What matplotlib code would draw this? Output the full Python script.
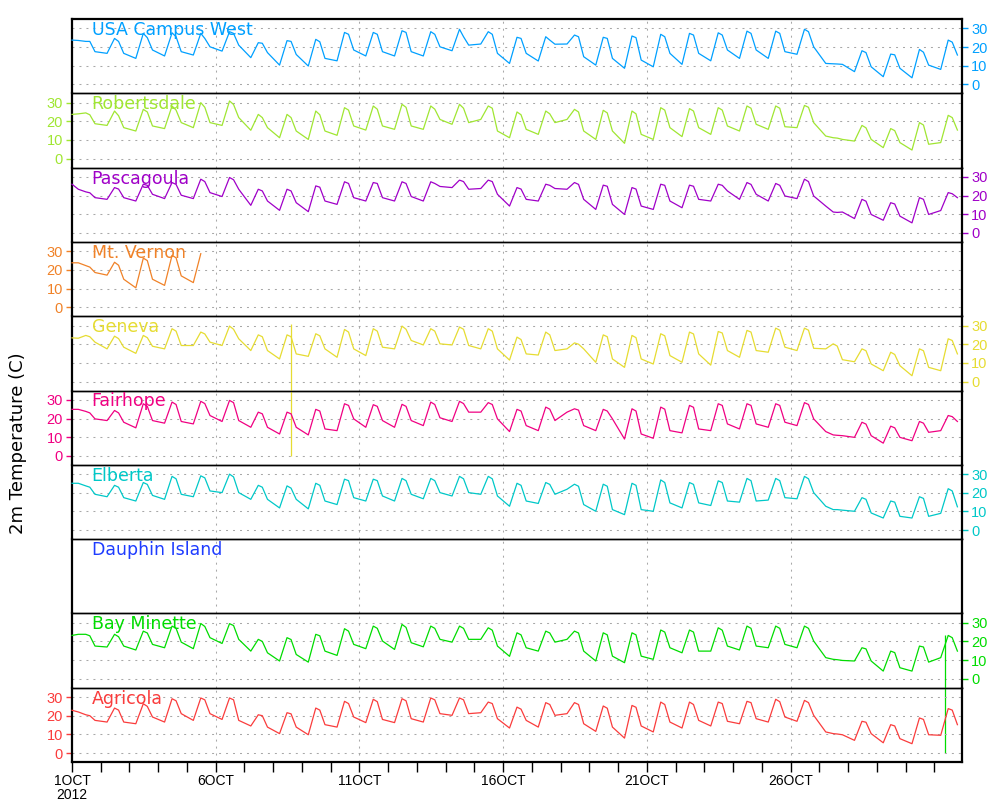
import numpy as np
import matplotlib
matplotlib.use('Agg')
import matplotlib.pyplot as plt

plt.rcParams['font.family'] = ['Liberation Sans', 'DejaVu Sans']

names = ['USA Campus West', 'Robertsdale', 'Pascagoula', 'Mt. Vernon', 'Geneva',
         'Fairhope', 'Elberta', 'Dauphin Island', 'Bay Minette', 'Agricola']
colors = ['#00a0ff', '#a0e632', '#a000c8', '#f08228', '#e6dc32',
          '#f00082', '#00c8c8', '#1e3cff', '#00dc00', '#fa3c3c']
label_side = ['right', 'left', 'right', 'left', 'right', 'left', 'right', None, 'right', 'left']

day_labels = ['1OCT\n2012', '6OCT', '11OCT', '16OCT', '21OCT', '26OCT']
label_days = [0, 5, 10, 15, 20, 25]
temp_ticks = [0, 10, 20, 30]

# four readings a day: morning low, early afternoon high, mid afternoon, evening
t_lo, t_hi, t_pm, t_ev = 0.22, 0.48, 0.62, 0.80

usa_start = 23.7
usa_lo = [23.5, 16.6, 13.9, 15.2, 15.7, 17.8, 14.3, 10.3, 9.8, 12.6, 15.2, 15.2, 15.2, 18.0, 21.6, 11.2,
          12.5, 21.6, 10.3, 8.6, 9.4, 10.7, 12.6, 13.9, 13.9, 16.1, 11.2, 6.8, 4.1, 3.5, 8.0]
usa_hi = [23.0, 24.6, 27.3, 27.6, 27.3, 28.2, 22.3, 23.4, 24.1, 27.8, 27.8, 28.7, 28.2, 29.5, 28.2, 25.2,
          25.5, 26.4, 25.2, 25.9, 26.8, 27.3, 27.6, 28.5, 28.5, 29.5, 11.0, 18.0, 16.2, 18.7, 23.7]
usa_pm = [23.0, 23.0, 25.0, 25.5, 24.6, 27.3, 22.0, 23.0, 22.8, 26.8, 26.8, 27.8, 26.8, 25.5, 26.8, 24.6,
          23.7, 25.5, 24.6, 25.0, 25.5, 26.4, 26.4, 27.3, 27.3, 28.2, 10.9, 17.0, 15.8, 17.2, 22.6]
usa_ev = [17.5, 16.6, 18.4, 17.5, 20.1, 21.0, 17.0, 16.0, 13.9, 18.4, 17.5, 17.5, 20.1, 21.0, 16.6, 16.6,
          21.5, 14.8, 13.9, 13.0, 16.6, 16.6, 18.4, 18.4, 17.5, 20.1, 10.7, 9.4, 8.6, 10.3, 15.7]

rob_start = 23.7
rob_lo = [24.0, 17.8, 14.8, 16.1, 16.6, 17.8, 15.2, 11.2, 10.3, 12.5, 15.3, 15.7, 15.7, 18.4, 21.0, 11.2,
          13.0, 21.0, 10.3, 8.2, 10.3, 11.8, 13.0, 14.8, 15.7, 16.6, 12.1, 9.4, 5.9, 4.6, 8.6]
rob_hi = [24.5, 25.5, 26.4, 28.2, 30.0, 30.9, 23.7, 23.7, 25.5, 27.3, 28.2, 29.1, 28.2, 29.1, 28.2, 25.0,
          25.5, 26.4, 25.9, 25.5, 27.3, 26.8, 27.3, 28.2, 28.2, 28.5, 11.2, 17.8, 16.1, 19.3, 23.2]
rob_pm = [23.5, 23.0, 25.0, 26.0, 27.5, 29.0, 22.0, 22.0, 23.5, 26.0, 26.5, 27.5, 26.5, 27.0, 27.0, 23.5,
          24.0, 25.0, 24.5, 24.0, 26.0, 25.5, 26.0, 27.0, 27.0, 27.5, 11.0, 16.5, 15.0, 18.0, 22.0]
rob_ev = [18.7, 16.6, 17.5, 19.3, 19.3, 22.0, 16.6, 14.8, 14.8, 17.5, 17.5, 17.5, 21.0, 19.3, 14.8, 15.7,
          19.3, 14.8, 14.8, 13.0, 16.6, 16.6, 17.5, 18.4, 17.1, 19.3, 10.3, 10.3, 8.6, 7.7, 15.3]

pas_start = 26.1
pas_lo = [23.4, 18.0, 17.1, 18.4, 18.4, 19.5, 14.8, 12.1, 11.4, 15.3, 17.1, 17.1, 17.1, 24.3, 23.8, 14.4,
          17.1, 23.4, 12.6, 9.9, 12.6, 13.5, 17.1, 18.0, 17.1, 18.4, 14.4, 7.7, 6.8, 5.4, 12.0]
pas_hi = [22.0, 24.3, 26.1, 27.0, 28.8, 29.7, 23.4, 23.4, 25.2, 27.4, 27.0, 27.4, 27.4, 28.3, 28.3, 24.3,
          26.1, 27.0, 25.6, 24.3, 26.1, 25.6, 26.1, 27.0, 26.5, 28.8, 11.2, 18.0, 16.2, 18.9, 21.6]
pas_pm = [21.5, 23.5, 25.5, 26.0, 27.5, 28.5, 22.5, 22.5, 24.5, 26.5, 26.5, 26.5, 26.5, 27.5, 27.5, 23.5,
          25.5, 26.0, 25.0, 23.5, 25.5, 25.0, 25.5, 26.0, 25.5, 27.5, 11.0, 17.0, 15.5, 18.0, 21.0]
pas_ev = [18.9, 18.9, 20.7, 20.2, 21.6, 23.4, 17.1, 16.2, 17.1, 18.9, 18.9, 19.5, 24.9, 23.4, 20.7, 18.0,
          23.8, 18.0, 15.3, 14.4, 17.1, 18.0, 22.5, 20.7, 19.8, 19.8, 11.2, 9.9, 9.0, 9.9, 18.9]

mtv_start = 23.8
mtv_lo = [23.8, 17.2, 10.4, 11.7, 13.2]
mtv_hi = [22.3, 24.1, 26.3, 27.8, 28.7]
mtv_pm = [21.5, 22.5, 25.0, 26.5]
mtv_ev = [18.6, 15.0, 15.0, 16.8]

gen_start = 23.4
gen_lo = [23.2, 17.5, 15.1, 17.5, 19.3, 19.3, 16.6, 12.1, 13.5, 13.0, 13.9, 17.5, 19.6, 19.6, 17.5, 11.5,
          14.2, 17.5, 10.3, 7.6, 9.4, 10.3, 8.8, 13.0, 15.7, 16.6, 17.5, 10.6, 5.8, 3.1, 5.8]
gen_hi = [24.7, 24.3, 24.7, 28.3, 26.5, 29.7, 25.0, 25.0, 25.6, 27.9, 28.3, 29.7, 28.3, 29.2, 28.3, 23.8,
          26.5, 20.7, 25.0, 24.7, 25.6, 26.5, 26.8, 27.4, 28.6, 28.6, 20.2, 17.5, 15.7, 17.5, 22.9]
gen_pm = [24.0, 23.0, 23.5, 27.0, 25.5, 28.0, 24.0, 24.0, 24.5, 26.5, 27.0, 28.0, 27.0, 28.0, 27.0, 22.5,
          25.0, 20.0, 24.0, 23.5, 24.5, 25.5, 26.0, 26.5, 27.5, 27.5, 19.0, 16.5, 14.5, 16.5, 22.0]
gen_ev = [21.1, 18.4, 18.9, 19.3, 21.1, 22.9, 16.6, 14.8, 17.5, 17.5, 18.4, 22.0, 20.2, 19.3, 17.5, 14.8,
          16.6, 17.5, 12.1, 12.1, 13.9, 14.8, 16.6, 16.6, 18.4, 17.8, 11.7, 9.4, 8.5, 7.6, 14.8]
gen_spike_day, gen_spike_low, gen_spike_high = 7.62, -40.0, 31.0

fai_start = 24.9
fai_lo = [24.9, 18.9, 15.0, 17.5, 17.1, 18.4, 15.3, 11.7, 11.2, 13.5, 15.3, 15.3, 16.2, 18.4, 23.4, 13.0,
          13.5, 23.4, 13.5, 9.0, 9.4, 12.3, 13.5, 14.4, 15.3, 16.2, 13.0, 9.9, 6.8, 8.1, 13.5]
fai_hi = [23.8, 24.3, 27.9, 28.8, 29.2, 29.7, 23.4, 23.4, 24.9, 27.9, 27.4, 27.6, 28.8, 29.2, 28.5, 24.9,
          26.1, 25.2, 24.9, 25.2, 26.1, 27.0, 27.9, 27.9, 27.9, 28.5, 11.2, 18.0, 15.9, 18.4, 21.6]
fai_pm = [23.0, 23.0, 26.5, 27.5, 28.0, 28.5, 22.5, 22.5, 24.0, 27.0, 26.5, 26.5, 27.5, 28.0, 27.5, 24.0,
          25.0, 24.5, 24.0, 24.0, 25.0, 26.0, 27.0, 27.0, 27.0, 27.5, 11.0, 17.0, 15.0, 17.5, 21.0]
fai_ev = [19.8, 18.0, 18.9, 18.4, 21.6, 18.9, 15.3, 15.3, 14.4, 19.8, 18.9, 18.9, 20.4, 23.4, 19.8, 16.2,
          18.9, 16.2, 19.8, 11.7, 13.5, 14.4, 17.1, 17.1, 18.0, 19.8, 10.8, 10.8, 9.9, 12.6, 18.4]

elb_start = 25.1
elb_lo = [25.1, 17.9, 15.6, 16.5, 17.9, 20.1, 16.5, 11.9, 11.4, 13.7, 15.6, 15.6, 16.8, 18.3, 19.2, 12.8,
          14.3, 21.9, 10.1, 8.3, 10.1, 11.9, 13.2, 15.0, 16.1, 16.8, 12.8, 10.1, 6.5, 6.5, 9.0]
elb_hi = [23.7, 24.0, 25.5, 28.8, 29.1, 30.0, 24.0, 23.7, 25.1, 27.3, 27.3, 27.7, 27.7, 28.8, 28.8, 25.1,
          25.5, 24.6, 24.6, 25.1, 26.9, 25.5, 26.4, 27.7, 27.7, 28.8, 11.0, 17.4, 15.6, 17.9, 22.2]
elb_pm = [23.0, 23.0, 24.5, 27.5, 28.0, 28.5, 23.0, 22.5, 24.0, 26.5, 26.5, 26.5, 26.5, 27.5, 27.5, 24.0,
          24.5, 23.5, 23.5, 24.0, 25.5, 24.5, 25.5, 26.5, 26.5, 27.5, 11.0, 16.5, 15.0, 17.0, 21.0]
elb_ev = [19.2, 17.4, 18.6, 19.2, 21.0, 20.1, 16.5, 16.5, 15.6, 17.4, 18.3, 19.2, 20.1, 20.1, 18.3, 15.6,
          19.2, 13.7, 11.0, 11.0, 14.6, 14.6, 15.6, 15.6, 17.4, 20.1, 10.7, 9.2, 7.4, 7.4, 12.5]

bay_start = 23.2
bay_lo = [23.8, 17.0, 15.4, 16.6, 16.1, 18.9, 14.8, 9.5, 8.9, 12.5, 16.1, 15.7, 17.1, 19.6, 21.1, 12.0,
          14.8, 21.1, 9.5, 8.6, 10.4, 13.9, 14.8, 15.4, 16.6, 16.6, 11.3, 9.5, 4.1, 4.1, 11.3]
bay_hi = [23.8, 23.8, 25.5, 28.2, 29.6, 29.5, 21.1, 22.0, 23.8, 26.8, 28.2, 29.1, 28.2, 28.2, 27.3, 24.6,
          25.5, 25.5, 24.6, 24.6, 26.1, 26.1, 27.3, 28.2, 28.2, 28.2, 10.4, 16.6, 14.8, 17.5, 23.2]
bay_pm = [23.0, 22.5, 24.5, 27.0, 28.0, 28.5, 20.0, 21.0, 23.0, 25.5, 27.0, 27.5, 27.0, 27.0, 26.0, 23.5,
          24.5, 24.5, 23.5, 23.5, 25.0, 25.0, 26.0, 27.0, 27.0, 27.0, 10.2, 16.0, 14.0, 17.0, 22.0]
bay_ev = [17.5, 17.5, 18.4, 19.6, 22.0, 21.1, 13.9, 13.0, 14.8, 18.4, 20.2, 19.3, 21.1, 21.1, 17.5, 16.6,
          19.6, 14.8, 12.1, 12.1, 16.6, 14.8, 17.5, 17.5, 18.4, 20.2, 9.8, 9.5, 5.9, 8.9, 14.8]
bay_spike_day, bay_spike_low, bay_spike_high = 30.37, -40.0, 23.5

agr_start = 22.9
agr_lo = [22.0, 16.6, 15.7, 16.6, 17.5, 18.0, 14.5, 10.4, 9.8, 13.9, 16.3, 16.3, 16.6, 20.2, 21.6, 13.4,
          13.9, 21.1, 11.6, 8.0, 11.3, 13.4, 14.5, 15.7, 16.6, 17.0, 11.3, 6.8, 5.5, 5.0, 9.5]
agr_hi = [20.5, 24.1, 26.4, 29.1, 29.5, 29.5, 20.5, 21.6, 24.1, 27.7, 28.8, 29.1, 29.5, 29.5, 27.3, 24.6,
          27.0, 27.0, 25.2, 25.5, 27.3, 27.3, 27.3, 27.7, 28.8, 28.2, 10.4, 17.0, 15.2, 18.8, 23.8]
agr_pm = [20.0, 23.0, 25.0, 28.0, 28.5, 28.5, 20.0, 21.0, 23.0, 26.5, 27.5, 28.0, 28.5, 28.5, 26.5, 23.5,
          26.0, 26.0, 24.0, 24.5, 26.0, 26.0, 26.5, 27.0, 27.5, 27.0, 10.2, 16.5, 14.5, 18.0, 23.0]
agr_ev = [17.5, 16.6, 19.3, 21.1, 21.1, 17.5, 13.9, 13.9, 15.2, 19.3, 18.0, 18.4, 21.1, 21.1, 18.4, 17.5,
          20.2, 15.7, 13.9, 14.5, 16.6, 17.5, 17.0, 18.4, 19.3, 20.2, 9.8, 10.4, 7.7, 9.8, 15.2]


def series(start, lo, hi, pm, ev):
    t, v = [0.0], [start]
    for d in range(len(lo)):
        for when, vals in ((t_lo, lo), (t_hi, hi), (t_pm, pm), (t_ev, ev)):
            if d < len(vals):
                t.append(d + when)
                v.append(vals[d])
    return np.array(t), np.array(v)


data = [series(usa_start, usa_lo, usa_hi, usa_pm, usa_ev),
        series(rob_start, rob_lo, rob_hi, rob_pm, rob_ev),
        series(pas_start, pas_lo, pas_hi, pas_pm, pas_ev),
        series(mtv_start, mtv_lo, mtv_hi, mtv_pm, mtv_ev),
        series(gen_start, gen_lo, gen_hi, gen_pm, gen_ev),
        series(fai_start, fai_lo, fai_hi, fai_pm, fai_ev),
        series(elb_start, elb_lo, elb_hi, elb_pm, elb_ev),
        None,
        series(bay_start, bay_lo, bay_hi, bay_pm, bay_ev),
        series(agr_start, agr_lo, agr_hi, agr_pm, agr_ev)]
spikes = {4: (gen_spike_day, gen_spike_low, gen_spike_high),
          8: (bay_spike_day, bay_spike_low, bay_spike_high)}

fig = plt.figure(figsize=(10, 8), dpi=100)
fig.patch.set_facecolor('white')

left, width = 0.072, 0.89
top = 1 - 19 / 800.
h = (762 - 19) / 800. / len(names)
grid_kw = dict(color='#a8a8a8', lw=0.75, ls=(0, (1.9, 4.8)), zorder=0)

for i, name in enumerate(names):
    ax = fig.add_axes([left, top - (i + 1) * h, width, h])
    ax.set_facecolor('none')
    ax.set_xlim(0, 30.96)
    ax.set_ylim(-4.8, 35)
    col = colors[i]

    for d in [5, 10, 15, 20, 25]:
        ax.axvline(d, **grid_kw)
    if data[i] is not None:
        for y in temp_ticks:
            ax.axhline(y, **grid_kw)
        t, v = data[i]
        ax.plot(t, v, color=col, lw=0.9, clip_on=False, zorder=3)
    if i in spikes:
        sd, slo, shi = spikes[i]
        ax.vlines(sd, slo, shi, color=col, lw=0.9, clip_on=False, zorder=3)

    ax.text(0.022, 0.785, name, transform=ax.transAxes, color=col,
            fontsize=12.5, family='DejaVu Sans', va='baseline', ha='left')

    side = label_side[i]
    if side is None:
        ax.set_yticks([])
    else:
        ax.set_yticks(temp_ticks)
        if side == 'left':
            ax.yaxis.tick_left()
        else:
            ax.yaxis.tick_right()
        ax.tick_params(axis='y', colors=col, length=4.5, width=1.0, direction='out',
                       labelsize=10.5, pad=2)

    for s in ax.spines.values():
        s.set_linewidth(1.0)
        s.set_color('black')
    ax.spines['left'].set_linewidth(1.6)
    ax.spines['right'].set_linewidth(1.6)
    if i == 0:
        ax.spines['top'].set_linewidth(1.6)

    if i == len(names) - 1:
        ax.spines['bottom'].set_linewidth(1.6)
        ax.set_xticks(label_days)
        ax.set_xticklabels(day_labels, fontsize=10, linespacing=1.0)
        ax.set_xticks(range(0, 31), minor=True)
        ax.tick_params(axis='x', which='both', length=7.5, width=1.0, direction='out',
                       colors='black', pad=1)
    else:
        ax.set_xticks([])

fig.text(0.018, 1 - 443 / 800., '2m Temperature (C)', rotation=90, ha='center', va='center',
         fontsize=13, family='DejaVu Sans')

fig.savefig('out.png', dpi=100, facecolor='white')
